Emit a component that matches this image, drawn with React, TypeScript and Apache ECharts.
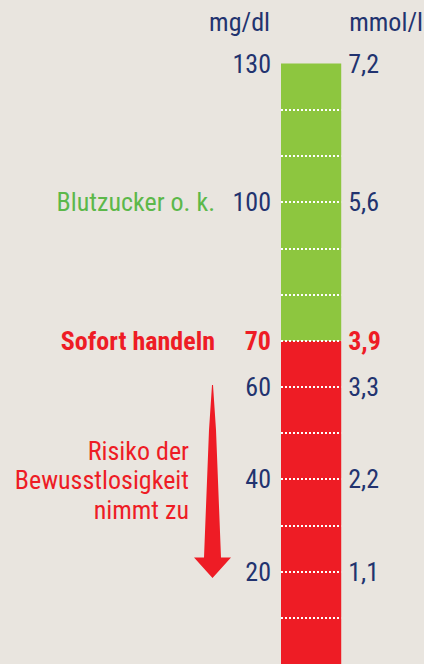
import React, { useEffect, useRef } from 'react';
import * as echarts from 'echarts';

// ---- data ----
const categories = ['Blutzucker'];
const lowRange = [70]; // red segment 0–70 mg/dl
const okRange = [60]; // green segment 70–130 mg/dl
const mgTickValues = [130, 100, 70, 60, 40, 20];
const mgTickLabels = ['130', '100', '70', '60', '40', '20'];
const mmolTickLabels = ['7,2', '5,6', '3,9', '3,3', '2,2', '1,1'];
const noteValues = [100, 70];
const noteLabels = ['Blutzucker o. k.', 'Sofort handeln'];
const riskNote = ['Risiko der', 'Bewusstlosigkeit', 'nimmt zu'];
const axisMin = 0;
const axisMax = 130;
const axisStep = 10;
const thresholdValue = 70;

const FONT = "'Roboto Condensed', 'Liberation Sans', sans-serif";
const NAVY = '#22336f';
const RED = '#ee1c25';
const GREEN_BAR = '#8dc63f';
const GREEN_TEXT = '#5cb84a';
const BG = '#e9e5df';
const FS = 26;

export default function App() {
  const ref = useRef<HTMLDivElement>(null);
  useEffect(() => {
    if (!ref.current) return;
    const chart = echarts.init(ref.current, undefined, { renderer: 'svg' });
    const base = { fontFamily: FONT, fontSize: FS };
    const leftFormatter = (v: number) => {
      const i = mgTickValues.indexOf(v);
      if (i < 0) return '';
      const alert = v === thresholdValue;
      const j = noteValues.indexOf(v);
      const note = j >= 0 ? `{${alert ? 'noteAlert' : 'noteOk'}|${noteLabels[j]}}` : '';
      return `${note}{${alert ? 'numAlert' : 'num'}|${mgTickLabels[i]}}`;
    };
    const rightFormatter = (v: number) => {
      const i = mgTickValues.indexOf(v);
      if (i < 0) return '';
      return `{${v === thresholdValue ? 'numAlert' : 'num'}|${mmolTickLabels[i]}}`;
    };
    chart.setOption({
      animation: false,
      backgroundColor: BG,
      grid: { left: 281, right: 80, top: 63.5, bottom: -3.2, containLabel: false },
      xAxis: { type: 'category', data: categories, show: false },
      yAxis: [
        {
          type: 'value',
          position: 'left',
          min: axisMin,
          max: axisMax,
          interval: axisStep,
          z: 10,
          name: 'mg/dl',
          nameLocation: 'end',
          nameGap: 42,
          nameTextStyle: { ...base, color: NAVY, align: 'right', verticalAlign: 'middle', padding: [0, 11, 0, 0] },
          axisLine: { show: false },
          axisTick: { show: false },
          splitLine: {
            show: true,
            showMaxLine: false,
            showMinLine: false,
            lineStyle: { color: '#ffffff', width: 2, type: [2, 2] },
          },
          axisLabel: {
            margin: 10,
            formatter: leftFormatter,
            rich: {
              num: { ...base, color: NAVY, width: 56, align: 'right' },
              numAlert: { ...base, color: RED, fontWeight: 'bold', width: 56, align: 'right' },
              noteOk: { ...base, color: GREEN_TEXT },
              noteAlert: { ...base, color: RED, fontWeight: 'bold' },
            },
          },
        },
        {
          type: 'value',
          position: 'right',
          min: axisMin,
          max: axisMax,
          interval: axisStep,
          name: 'mmol/l',
          nameLocation: 'end',
          nameGap: 42,
          nameTextStyle: { ...base, color: NAVY, align: 'left', verticalAlign: 'middle', padding: [0, 0, 0, 8] },
          axisLine: { show: false },
          axisTick: { show: false },
          splitLine: { show: false },
          axisLabel: {
            margin: 7,
            formatter: rightFormatter,
            rich: {
              num: { ...base, color: NAVY },
              numAlert: { ...base, color: RED, fontWeight: 'bold' },
            },
          },
        },
      ],
      series: [
        {
          type: 'bar',
          name: 'Unterzucker',
          stack: 'range',
          data: lowRange,
          barWidth: '100%',
          itemStyle: { color: RED },
        },
        {
          type: 'bar',
          name: 'Normal',
          stack: 'range',
          data: okRange,
          barWidth: '100%',
          itemStyle: { color: GREEN_BAR },
        },
      ],
      graphic: [
        {
          type: 'text',
          z: 20,
          style: {
            text: riskNote.join('\n'),
            x: 189,
            y: 480,
            align: 'right',
            verticalAlign: 'middle',
            fill: RED,
            font: `${FS}px ${FONT}`,
            lineHeight: 29.5,
          },
        },
        {
          type: 'polygon',
          z: 20,
          shape: {
            points: [
              [212.0, 385],
              [213.0, 385],
              [216.0, 430],
              [221.0, 557.5],
              [231.0, 557.5],
              [212.5, 578],
              [194.0, 557.5],
              [204.0, 557.5],
              [209.0, 430],
            ],
          },
          style: { fill: RED },
        },
      ],
    });
    return () => chart.dispose();
  }, []);
  return (
    <div
      ref={ref}
      style={{ position: 'fixed', left: 0, top: 0, width: 424, height: 664, background: BG }}
    />
  );
}
